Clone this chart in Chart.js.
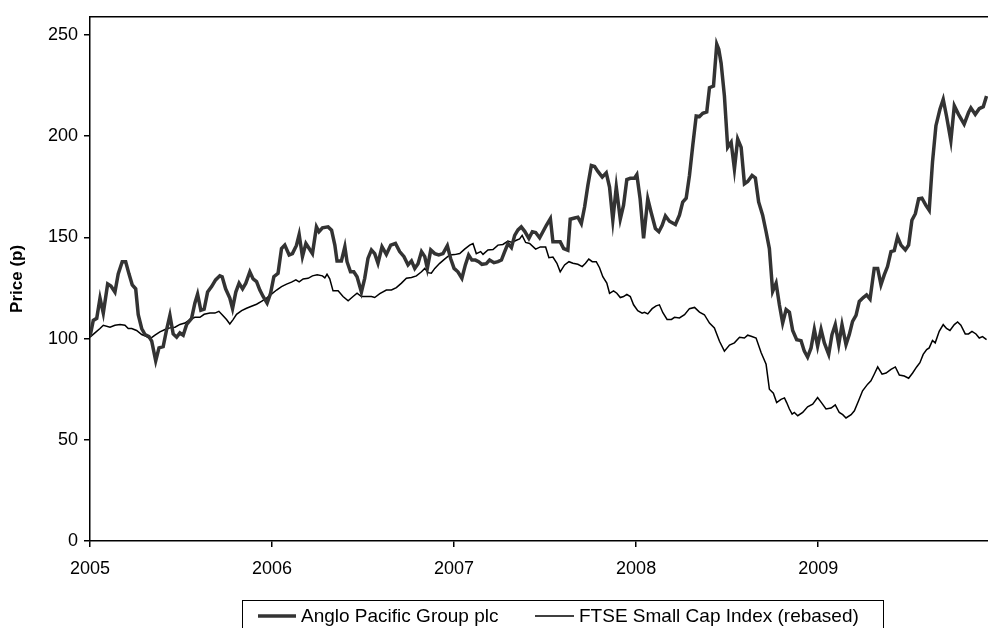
<!DOCTYPE html>
<html>
<head>
<meta charset="utf-8">
<script src="https://cdn.jsdelivr.net/npm/chart.js@4"></script>
<style>
  html, body { margin: 0; padding: 0; background: #fff; }
  #wrap { width: 988px; height: 628px; position: relative; }
</style>
</head>
<body>
<div id="wrap"><canvas id="myChart"></canvas></div>
<script>
// dates are decimal years, values in pence / rebased index
const angloDates = [2005.000, 2005.018, 2005.037, 2005.055, 2005.073, 2005.097, 2005.115, 2005.137, 2005.155, 2005.177,
  2005.196, 2005.214, 2005.232, 2005.251, 2005.265, 2005.284, 2005.302, 2005.324, 2005.339, 2005.361,
  2005.379, 2005.402, 2005.421, 2005.439, 2005.457, 2005.476, 2005.494, 2005.512, 2005.531, 2005.558,
  2005.576, 2005.591, 2005.609, 2005.627, 2005.646, 2005.668, 2005.690, 2005.713, 2005.726, 2005.745,
  2005.768, 2005.783, 2005.801, 2005.819, 2005.838, 2005.856, 2005.878, 2005.896, 2005.915, 2005.933,
  2005.951, 2005.973, 2005.992, 2006.010, 2006.033, 2006.052, 2006.070, 2006.094, 2006.112, 2006.134,
  2006.149, 2006.167, 2006.186, 2006.204, 2006.222, 2006.244, 2006.258, 2006.277, 2006.308, 2006.327,
  2006.345, 2006.357, 2006.381, 2006.400, 2006.412, 2006.431, 2006.449, 2006.467, 2006.491, 2006.509,
  2006.527, 2006.546, 2006.564, 2006.582, 2006.604, 2006.628, 2006.652, 2006.678, 2006.701, 2006.725,
  2006.747, 2006.766, 2006.784, 2006.802, 2006.821, 2006.839, 2006.853, 2006.872, 2006.894, 2006.916,
  2006.939, 2006.963, 2006.981, 2007.000, 2007.021, 2007.043, 2007.062, 2007.080, 2007.098, 2007.117,
  2007.135, 2007.153, 2007.177, 2007.195, 2007.219, 2007.241, 2007.260, 2007.278, 2007.296, 2007.315,
  2007.333, 2007.351, 2007.369, 2007.388, 2007.411, 2007.430, 2007.448, 2007.470, 2007.488, 2007.507,
  2007.529, 2007.543, 2007.561, 2007.583, 2007.602, 2007.625, 2007.638, 2007.662, 2007.680, 2007.699,
  2007.717, 2007.735, 2007.754, 2007.772, 2007.790, 2007.814, 2007.836, 2007.854, 2007.872, 2007.891,
  2007.913, 2007.931, 2007.949, 2007.968, 2007.991, 2008.004, 2008.022, 2008.041, 2008.064, 2008.083,
  2008.106, 2008.125, 2008.143, 2008.161, 2008.183, 2008.216, 2008.238, 2008.256, 2008.275, 2008.293,
  2008.311, 2008.330, 2008.348, 2008.366, 2008.388, 2008.403, 2008.425, 2008.443, 2008.454, 2008.467,
  2008.485, 2008.503, 2008.522, 2008.540, 2008.558, 2008.577, 2008.595, 2008.613, 2008.637, 2008.655,
  2008.673, 2008.695, 2008.714, 2008.732, 2008.750, 2008.769, 2008.787, 2008.805, 2008.824, 2008.842,
  2008.860, 2008.882, 2008.906, 2008.924, 2008.942, 2008.961, 2008.979, 2008.997, 2009.016, 2009.034,
  2009.058, 2009.076, 2009.094, 2009.113, 2009.131, 2009.153, 2009.171, 2009.189, 2009.208, 2009.226,
  2009.248, 2009.266, 2009.285, 2009.308, 2009.327, 2009.345, 2009.363, 2009.381, 2009.400, 2009.418,
  2009.436, 2009.455, 2009.479, 2009.497, 2009.515, 2009.534, 2009.552, 2009.570, 2009.592, 2009.610,
  2009.628, 2009.647, 2009.669, 2009.687, 2009.705, 2009.729, 2009.748, 2009.771, 2009.802, 2009.826,
  2009.839, 2009.863, 2009.885, 2009.907, 2009.925];
const angloPrices = [101, 109, 110, 120, 112.6, 127, 126, 123, 132, 138,
  138, 132, 126.6, 124.6, 111.8, 105, 102, 101, 98.7, 89,
  95.4, 96, 104.5, 111.5, 102.3, 100.7, 102.8, 101.7, 107, 110,
  117.5, 122, 114, 114.5, 123, 125.7, 129, 131, 130.5, 124.6,
  120, 114.8, 123, 127.4, 124.6, 127.4, 133, 129.5, 128.2, 124,
  120.8, 117.5, 122.4, 130.6, 132.3, 144.5, 146.2, 141.3, 142, 146,
  151.4, 140.5, 147, 144.5, 142, 155.2, 152.8, 154.7, 155.2, 153.6,
  146.2, 138.4, 138.4, 145.4, 138, 133, 133, 130.6, 123, 129.8,
  139.6, 143.8, 142, 137.2, 145.4, 141.6, 146.2, 147, 143, 140.5,
  136.4, 138.4, 134.7, 137, 143, 140.5, 134.7, 143.8, 142, 141.3,
  142, 145.9, 139.6, 134.7, 133, 129.8, 136.4, 141.3, 138.8, 138.8,
  138, 136.7, 137, 138.8, 137.5, 138, 138.8, 143, 147, 145,
  151, 153.7, 155.2, 153, 149.5, 152.8, 152.4, 149.8, 152.8, 156,
  159.3, 147.8, 147.8, 147.8, 144.5, 143.7, 159, 159.6, 160, 156.8,
  165, 175.7, 185.5, 185, 182.6, 179.8, 181.9, 174.9, 158.5, 174.9,
  159, 165.9, 178.6, 179.2, 179.2, 181, 169.1, 149.5, 169.1, 162.2,
  154.4, 152.8, 156, 160.6, 158, 156.4, 161, 167.5, 169.4, 180.6,
  195.3, 210, 209.7, 211.3, 212, 224, 224.8, 245.5, 243, 236,
  219.9, 194.5, 197, 183.8, 198.6, 194.5, 176.5, 177.6, 180.6, 179.4,
  167.5, 161, 152.8, 144.5, 123.3, 127.4, 116.7, 107.7, 114.3, 113,
  104, 99.5, 99, 93.8, 90.9, 95.4, 104.5, 96.3, 104.5, 97.9,
  92.2, 102, 106.9, 97.1, 106.9, 97, 102, 108.5, 111.5, 118.4,
  120.3, 121.6, 119.5, 134.7, 134.7, 126.6, 131.5, 135.6, 143, 143.5,
  150.3, 146.2, 143.8, 146.2, 158.5, 161.7, 169.1, 169.4, 165.8, 163.4,
  187.1, 205.2, 213.3, 218.2, 210, 197.8, 215, 210.8, 206, 211.7,
  214, 210.8, 213.6, 214.6, 219.9];

const ftseDates = [2005.000, 2005.027, 2005.055, 2005.073, 2005.110, 2005.137, 2005.165, 2005.192, 2005.210, 2005.229,
  2005.256, 2005.284, 2005.311, 2005.329, 2005.357, 2005.384, 2005.412, 2005.439, 2005.467, 2005.494,
  2005.521, 2005.549, 2005.576, 2005.604, 2005.627, 2005.659, 2005.686, 2005.708, 2005.726, 2005.750,
  2005.768, 2005.786, 2005.805, 2005.833, 2005.860, 2005.887, 2005.915, 2005.942, 2005.970, 2005.997,
  2006.025, 2006.052, 2006.080, 2006.107, 2006.131, 2006.149, 2006.171, 2006.198, 2006.222, 2006.248,
  2006.277, 2006.290, 2006.302, 2006.317, 2006.335, 2006.363, 2006.390, 2006.418, 2006.445, 2006.467,
  2006.491, 2006.519, 2006.546, 2006.564, 2006.592, 2006.628, 2006.656, 2006.683, 2006.711, 2006.738,
  2006.766, 2006.793, 2006.821, 2006.839, 2006.857, 2006.875, 2006.894, 2006.921, 2006.948, 2006.976,
  2007.003, 2007.031, 2007.058, 2007.086, 2007.104, 2007.122, 2007.146, 2007.159, 2007.186, 2007.214,
  2007.241, 2007.268, 2007.296, 2007.318, 2007.342, 2007.360, 2007.374, 2007.393, 2007.415, 2007.448,
  2007.474, 2007.503, 2007.521, 2007.543, 2007.565, 2007.583, 2007.607, 2007.631, 2007.653, 2007.680,
  2007.704, 2007.722, 2007.740, 2007.759, 2007.781, 2007.799, 2007.817, 2007.839, 2007.854, 2007.876,
  2007.894, 2007.913, 2007.931, 2007.949, 2007.968, 2007.986, 2008.009, 2008.033, 2008.046, 2008.064,
  2008.088, 2008.110, 2008.128, 2008.147, 2008.170, 2008.194, 2008.211, 2008.238, 2008.266, 2008.293,
  2008.321, 2008.348, 2008.375, 2008.403, 2008.430, 2008.458, 2008.485, 2008.513, 2008.540, 2008.568,
  2008.595, 2008.613, 2008.632, 2008.659, 2008.687, 2008.714, 2008.732, 2008.754, 2008.772, 2008.796,
  2008.815, 2008.827, 2008.842, 2008.857, 2008.869, 2008.888, 2008.915, 2008.942, 2008.970, 2008.997,
  2009.021, 2009.043, 2009.071, 2009.094, 2009.116, 2009.135, 2009.153, 2009.181, 2009.199, 2009.222,
  2009.244, 2009.272, 2009.290, 2009.308, 2009.327, 2009.351, 2009.373, 2009.400, 2009.424, 2009.446,
  2009.473, 2009.497, 2009.519, 2009.541, 2009.559, 2009.577, 2009.596, 2009.610, 2009.628, 2009.643,
  2009.665, 2009.687, 2009.705, 2009.724, 2009.748, 2009.766, 2009.784, 2009.808, 2009.826, 2009.845,
  2009.867, 2009.885, 2009.903, 2009.925];
const ftseValues = [100.7, 102.8, 105, 106.6, 105.6, 106.6, 107, 106.6, 105, 105,
  104, 102, 101, 99.9, 101.7, 103.3, 104.5, 105.3, 105.6, 107,
  107.7, 109.4, 110.5, 110.5, 112, 112.6, 112.6, 113.5, 111.8, 109.4,
  107.2, 109.4, 112, 113.8, 115, 116, 117, 118.4, 120, 122,
  124, 125.7, 126.9, 127.9, 129, 128, 129.5, 129.8, 131, 131.5,
  131, 130, 131.8, 129.5, 123.6, 123.6, 120.8, 118.7, 120.8, 122.4,
  120.8, 120.8, 120.8, 120.3, 122.2, 124, 124, 125.2, 127.4, 129.8,
  130.2, 131, 133, 134.7, 132.6, 132.3, 134.7, 137.2, 139.3, 141.3,
  141.5, 142, 144.2, 146.2, 147, 142, 143, 141.6, 143.8, 144,
  146.2, 146.5, 148.2, 147.5, 148.6, 149.3, 151, 147.5, 147, 144.2,
  145.3, 145.3, 140, 140.3, 137.2, 133, 136.4, 138, 137.2, 136.7,
  135.6, 137.2, 139.3, 138, 138, 135, 130.6, 127.4, 122.4, 123.6,
  122.4, 120.3, 120.8, 121.9, 120.8, 116.7, 113.8, 112.6, 113, 112.2,
  114.8, 116.2, 116.7, 112.8, 109.5, 109.5, 110.5, 110.2, 111.8, 114.8,
  115.4, 113.1, 111.8, 107.7, 105.3, 98.7, 93.8, 96.8, 97.9, 100.7,
  100.3, 101.7, 101.2, 100.3, 93, 87.3, 75, 73, 68.4, 70,
  70.7, 68.4, 65.2, 62.7, 63.5, 61.9, 63.5, 66.3, 67.6, 70.9,
  68, 65.2, 65.7, 67.3, 63.5, 62.4, 60.8, 62.4, 64.3, 69.3,
  74.2, 77.5, 79.1, 82.4, 86, 82.4, 83, 84.8, 86, 82,
  81.5, 80.4, 83, 86, 88.1, 92.2, 94.6, 95.4, 99.1, 97.9,
  103.6, 106.9, 105, 104, 106.9, 108.2, 106.6, 102.3, 102.3, 103.6,
  102.3, 100.3, 101, 99.5];

const seriesNames = ['Anglo Pacific Group plc', 'FTSE Small Cap Index (rebased)'];
const yearTicks = [2005, 2006, 2007, 2008, 2009];
const priceTicks = [0, 50, 100, 150, 200, 250];
const axisTitle = 'Price (p)';

const FONT = '"Liberation Sans", Arial, sans-serif';
Chart.defaults.font.family = FONT;
Chart.defaults.font.size = 18;
Chart.defaults.color = '#000';

const toPoints = (xs, ys) => xs.map((x, i) => ({ x: x, y: ys[i] }));

// top frame line + boxed legend at the bottom
const framePlugin = {
    id: 'frame',
    afterDraw(chart) {
        const { ctx, chartArea } = chart;
        ctx.save();
        ctx.strokeStyle = '#000';
        ctx.lineWidth = 1.5;
        ctx.beginPath();
        ctx.moveTo(chartArea.left, chartArea.top);
        ctx.lineTo(chartArea.right, chartArea.top);
        ctx.stroke();

        ctx.lineWidth = 1;
        ctx.strokeRect(242.5, 600.5, 641, 40);
        const ly = 616;
        const items = [
            { x: 258, w: 38, lw: 3.5, c: '#333', text: seriesNames[0] },
            { x: 535, w: 39, lw: 1.5, c: '#000', text: seriesNames[1] }
        ];
        ctx.font = '19px ' + FONT;
        ctx.textBaseline = 'middle';
        ctx.fillStyle = '#000';
        items.forEach(it => {
            ctx.strokeStyle = it.c;
            ctx.lineWidth = it.lw;
            ctx.beginPath();
            ctx.moveTo(it.x, ly);
            ctx.lineTo(it.x + it.w, ly);
            ctx.stroke();
            ctx.fillText(it.text, it.x + it.w + 5, ly + 1);
        });
        ctx.restore();
    }
};

const ctx = document.getElementById('myChart');

new Chart(ctx, {
    type: 'line',
    data: {
        datasets: [{
            label: seriesNames[0],
            data: toPoints(angloDates, angloPrices),
            borderColor: '#333333',
            borderWidth: 3.5,
            pointRadius: 0,
            tension: 0
        }, {
            label: seriesNames[1],
            data: toPoints(ftseDates, ftseValues),
            borderColor: '#000000',
            borderWidth: 1.5,
            pointRadius: 0,
            tension: 0
        }]
    },
    options: {
        responsive: true,
        maintainAspectRatio: false,
        animation: false,
        layout: { padding: { top: 14, right: 0, left: 0, bottom: 0 } },
        plugins: {
            legend: { display: false },
            tooltip: { enabled: false }
        },
        scales: {
            x: {
                type: 'linear',
                min: 2005,
                max: 2009.933,
                afterBuildTicks: s => { s.ticks = yearTicks.map(v => ({ value: v })); },
                afterFit: s => { s.height = 87; },
                ticks: {
                    padding: 11,
                    maxRotation: 0,
                    callback: v => String(v)
                },
                grid: {
                    drawOnChartArea: false,
                    drawTicks: true,
                    tickLength: 6,
                    color: '#000',
                    lineWidth: 1.5
                },
                border: { display: true, color: '#000', width: 1.5 }
            },
            y: {
                min: 0,
                max: 259,
                afterBuildTicks: s => { s.ticks = priceTicks.map(v => ({ value: v })); },
                afterFit: s => { s.width = 90; },
                ticks: { padding: 6 },
                grid: {
                    drawOnChartArea: false,
                    drawTicks: true,
                    tickLength: 6,
                    color: '#000',
                    lineWidth: 1.5
                },
                border: { display: true, color: '#000', width: 1.5 },
                title: {
                    display: true,
                    text: axisTitle,
                    font: { weight: 'bold', size: 17 },
                    padding: { top: 7, bottom: 0 }
                }
            }
        }
    },
    plugins: [framePlugin]
});
</script>
</body>
</html>
